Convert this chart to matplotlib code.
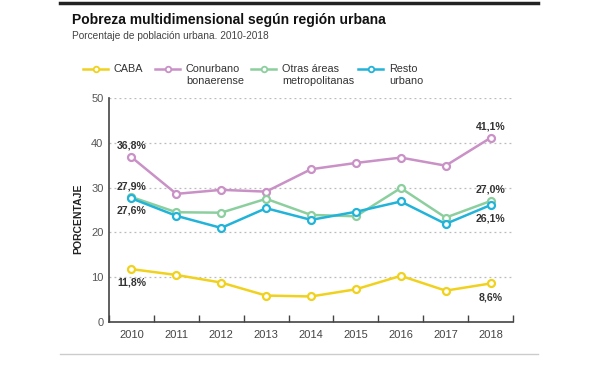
import matplotlib.pyplot as plt
import numpy as np

years = ['2010', '2011', '2012', '2013', '2014', '2015', '2016', '2017', '2018']
caba = [11.8, 10.5, 8.8, 5.9, 5.7, 7.3, 10.3, 7.0, 8.6]
conurbano = [36.8, 28.6, 29.5, 29.1, 34.1, 35.5, 36.7, 34.9, 41.1]
otras = [27.9, 24.5, 24.4, 27.5, 23.9, 23.6, 29.9, 23.3, 27.0]
resto = [27.6, 23.7, 21.0, 25.4, 22.8, 24.6, 26.9, 21.9, 26.1]

names = ['CABA', 'Conurbano\nbonaerense', 'Otras áreas\nmetropolitanas', 'Resto\nurbano']
colors = ['#f0d21e', '#c991c6', '#8ccf9e', '#22b3d9']

plt.rcParams['font.family'] = ['Liberation Sans', 'DejaVu Sans']

fig = plt.figure(figsize=(6, 3.65), dpi=100)
W, H = 600, 365

# axes placed in pixel terms
ax = fig.add_axes([109 / W, 43 / H, 404 / W, 224 / H])
x = np.arange(len(years))

for vals, c in zip([caba, conurbano, otras, resto], colors):
    ax.plot(x, vals, '-o', color=c, lw=1.8, ms=5, mfc='white', mec=c, mew=1.6, zorder=3)

ax.set_xlim(-0.5, len(years) - 0.5)
ax.set_ylim(0, 50)
ax.set_yticks([0, 10, 20, 30, 40, 50])
for v in [10, 20, 30, 40, 50]:
    ax.axhline(v, color='#bbbbbb', lw=0.9, ls=(0, (1.5, 2.5)), zorder=1)

ax.set_xticks(x)
ax.set_xticklabels(years)
ax.set_xticks(np.arange(-0.5, len(years)), minor=True)
ax.tick_params(axis='x', which='major', length=0, pad=6, labelsize=8, labelcolor='#444444')
ax.tick_params(axis='x', which='minor', length=5, direction='in', color='#444444', width=1)
ax.tick_params(axis='y', length=0, pad=4, labelsize=8, labelcolor='#555555')

for s in ['top', 'right']:
    ax.spines[s].set_visible(False)
for s in ['left', 'bottom']:
    ax.spines[s].set_color('#444444')
    ax.spines[s].set_linewidth(1.2)

fig.text(78 / W, 1 - 219 / H, 'PORCENTAJE', rotation=90, ha='center', va='center',
         fontsize=7.5, fontweight='bold', color='#222222')

# value labels at the ends
lab = dict(ha='center', va='center', fontsize=7.6, fontweight='bold', color='#333333')
ax.text(0, conurbano[0] + 2.5, '36,8%', **lab)
ax.text(0, otras[0] + 2.3, '27,9%', **lab)
ax.text(0, resto[0] - 2.8, '27,6%', **lab)
ax.text(0, caba[0] - 3.0, '11,8%', **lab)
ax.text(8, conurbano[-1] + 2.5, '41,1%', **lab)
ax.text(8, otras[-1] + 2.5, '27,0%', **lab)
ax.text(8, resto[-1] - 2.9, '26,1%', **lab)
ax.text(8, caba[-1] - 3.2, '8,6%', **lab)

# legend drawn by hand
leg_x = [83, 155, 251, 358]
for lx, name, c in zip(leg_x, names, colors):
    fig.add_artist(plt.Line2D([lx / W, (lx + 25) / W], [1 - 69 / H] * 2, color=c, lw=1.8,
                              transform=fig.transFigure))
    fig.add_artist(plt.Line2D([(lx + 12.5) / W], [1 - 69 / H], marker='o', ms=4, mfc='white',
                              mec=c, mew=1.3, transform=fig.transFigure))
    fig.text((lx + 31) / W, 1 - 64 / H, name, ha='left', va='top', fontsize=7.8,
             color='#333333', linespacing=1.3)

# header
fig.add_artist(plt.Line2D([60 / W, 538 / W], [1 - 3 / H] * 2, color='#222222', lw=2.5,
                          transform=fig.transFigure))
fig.text(72 / W, 1 - 20 / H, 'Pobreza multidimensional según región urbana', ha='left',
         va='center', fontsize=10, fontweight='bold', color='#111111')
fig.text(72 / W, 1 - 36 / H, 'Porcentaje de población urbana. 2010-2018', ha='left',
         va='center', fontsize=7.3, color='#444444')
fig.add_artist(plt.Line2D([60 / W, 538 / W], [1 - 354 / H] * 2, color='#cccccc', lw=1,
                          transform=fig.transFigure))

fig.savefig('out.png', dpi=100)
